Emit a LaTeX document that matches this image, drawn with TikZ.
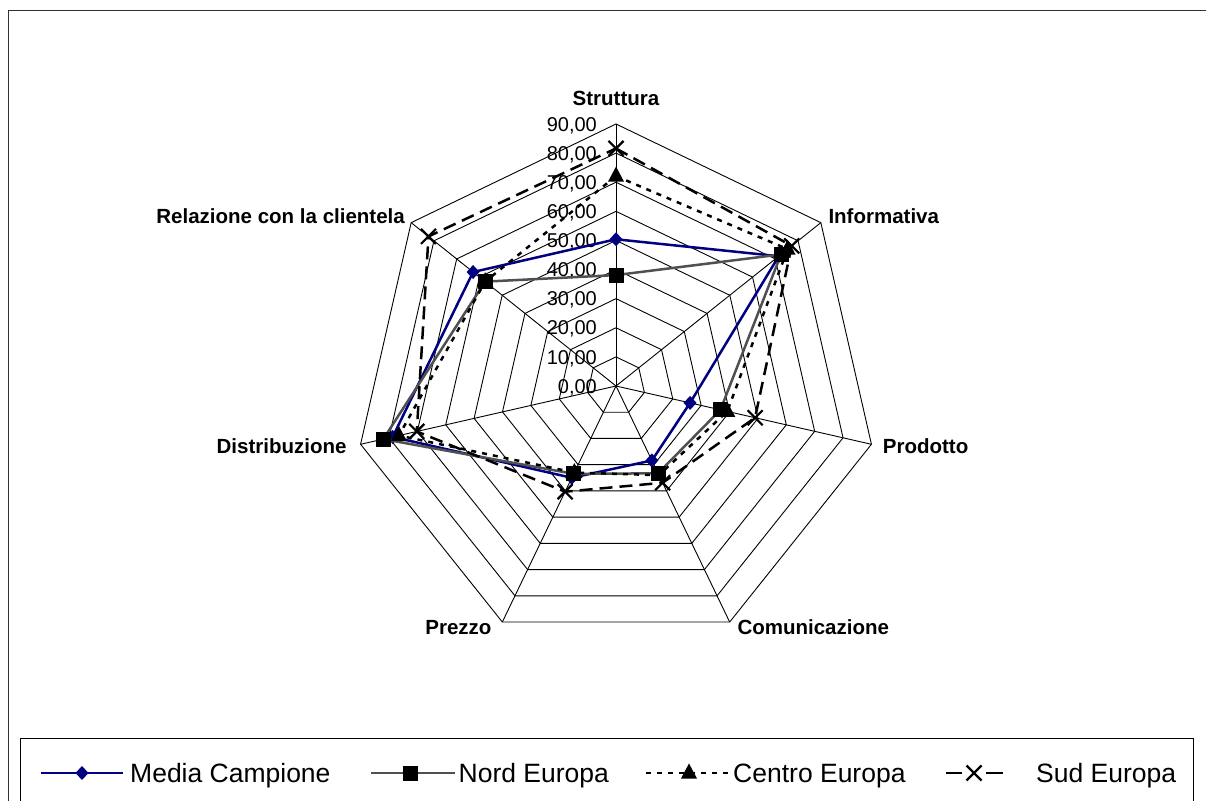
\documentclass[tikz,border=0pt]{standalone}
\usepackage{fontspec}
\setmainfont{Liberation Sans}
\definecolor{navyc}{RGB}{0,0,128}
\definecolor{nordc}{RGB}{80,80,80}
\definecolor{framec}{RGB}{50,50,50}
\newcommand\mkdiam[1]{\fill[navyc] (#1) ++(0,7) -- ++(6.5,-7) -- ++(-6.5,-7) -- ++(-6.5,7) -- cycle;}
\newcommand\mksq[1]{\fill[black] (#1) ++(-7.5,-7.5) rectangle ++(15,15);}
\newcommand\mktri[1]{\fill[black] (#1) ++(0,9.5) -- ++(8,-15) -- ++(-16,0) -- cycle;}
\newcommand\mkx[1]{\draw[black,line width=2.2pt] (#1) ++(-7.5,-7.5) -- ++(15,15) (#1) ++(-7.5,7.5) -- ++(15,-15);}
\tikzset{
  gridln/.style={black,line width=0.9pt},
  medialn/.style={navyc,line width=2.5pt,line join=round},
  nordln/.style={nordc,line width=2.5pt,line join=round},
  centroln/.style={black,line width=2.5pt,dash pattern=on 5pt off 6pt},
  sudln/.style={black,line width=2.5pt,dash pattern=on 13pt off 7pt},
  vallab/.style={anchor=base east,inner sep=0pt,font=\fontsize{20}{24}\selectfont},
  catlab/.style={inner sep=0pt,font=\fontsize{20.5}{24}\selectfont\bfseries},
  leglab/.style={anchor=base west,inner sep=0pt,font=\fontsize{26.5}{30}\selectfont},
}
\begin{document}
\begin{tikzpicture}[x=1pt,y=1pt]
\useasboundingbox (0,0) rectangle (1206,800);
\clip (0,0) rectangle (1206,800);
% outer frame
\draw[framec,line width=1.3pt] (8.7,-20) rectangle (1220,789.3);
% legend box
\draw[black,line width=1pt] (20,-20) rectangle (1193,62);

\begin{scope}[shift={(616,414)}]
  % rings
  \foreach \r in {1,...,9}
    \draw[gridln] (90:{\r*29.111}) \foreach \j in {1,...,6} { -- ({90-\j*360/7}:{\r*29.111}) } -- cycle;
  % spokes
  \foreach \j in {0,...,6}
    \draw[gridln] (0,0) -- ({90-\j*360/7}:262);
  % value labels
  \node[vallab] (v0) at (-19,-7.2) {0,00};
  \foreach \r in {1,...,9}
    \node[vallab] (v\r) at (-19,{\r*29.111-7.2}) {\r0,00};
  % data points
  \foreach \v [count=\i from 0] in {50.4,71.5,26.1,28.4,35,78.7,62.8}
    \coordinate (M\i) at ({90-\i*360/7}:{\v*2.9111});
  \foreach \v [count=\i from 0] in {38.1,72.5,36.8,33.3,33.5,82,57.5}
    \coordinate (N\i) at ({90-\i*360/7}:{\v*2.9111});
  \foreach \v [count=\i from 0] in {72.1,75.4,39.2,34,33,76.5,57.5}
    \coordinate (C\i) at ({90-\i*360/7}:{\v*2.9111});
  \foreach \v [count=\i from 0] in {81.6,77.2,49,36.9,40.3,70.2,82.4}
    \coordinate (S\i) at ({90-\i*360/7}:{\v*2.9111});
\end{scope}

% series: Media Campione
\draw[medialn] (M0) -- (M1) -- (M2) -- (M3) -- (M4) -- (M5) -- (M6) -- cycle;
\foreach \i in {0,...,6} { \mkdiam{M\i} }
% Nord Europa
\draw[nordln] (N0) -- (N1) -- (N2) -- (N3) -- (N4) -- (N5) -- (N6) -- cycle;
\foreach \i in {0,...,6} { \mksq{N\i} }
% Centro Europa
\draw[centroln] (C0) -- (C1) -- (C2) -- (C3) -- (C4) -- (C5) -- (C6) -- cycle;
\foreach \i in {0,...,6} { \mktri{C\i} }
% Sud Europa
\draw[sudln] (S0) -- (S1) -- (S2) -- (S3) -- (S4) -- (S5) -- (S6) -- cycle;
\foreach \i in {0,...,6} { \mkx{S\i} }

% category labels
\node[catlab,anchor=base] (kStr) at (616,694) {Struttura};
\node[catlab,anchor=base west] (kInf) at (828.3,576.7) {Informativa};
\node[catlab,anchor=base west] (kPro) at (882.7,346.7) {Prodotto};
\node[catlab,anchor=base west] (kCom) at (737.3,165) {Comunicazione};
\node[catlab,anchor=base east] (kPre) at (491.7,165) {Prezzo};
\node[catlab,anchor=base east] (kDis) at (346.7,346.7) {Distribuzione};
\node[catlab,anchor=base east] (kRel) at (405,576.7) {Relazione con la clientela};

% legend
\coordinate (l1a) at (41,27); \coordinate (l1b) at (123,27); \coordinate (l1m) at (82,27);
\draw[navyc,line width=2.5pt] (l1a) -- (l1b);
\mkdiam{l1m}
\node[leglab] (t1) at (130,17.5) {Media Campione};

\coordinate (l2a) at (371,27); \coordinate (l2b) at (455,27); \coordinate (l2m) at (410,27);
\draw[nordc,line width=2.5pt] (l2a) -- (l2b);
\mksq{l2m}
\node[leglab] (t2) at (458.5,17.5) {Nord Europa};

\coordinate (l3a) at (646,27); \coordinate (l3b) at (731,27); \coordinate (l3m) at (689,27);
\draw[centroln] (l3a) -- (l3b);
\mktri{l3m}
\node[leglab] (t3) at (733,17.5) {Centro Europa};

\coordinate (l4a) at (946,27); \coordinate (l4b) at (962,27);
\coordinate (l4c) at (986,27); \coordinate (l4d) at (1003,27); \coordinate (l4m) at (974,27);
\draw[black,line width=2.5pt] (l4a) -- (l4b) (l4c) -- (l4d);
\mkx{l4m}
\node[leglab] (t4) at (1036,17.5) {Sud Europa};
\end{tikzpicture}
\end{document}
